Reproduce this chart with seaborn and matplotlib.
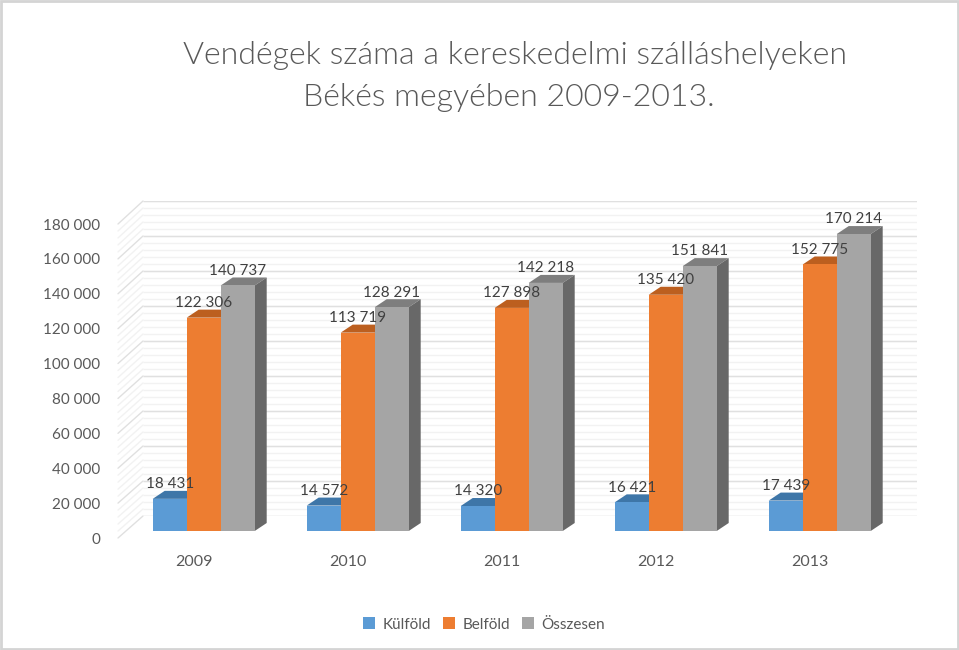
import numpy as np
import pandas as pd
import seaborn as sns
import matplotlib.pyplot as plt
from matplotlib.lines import Line2D
from matplotlib.patches import Polygon, Rectangle
from matplotlib.transforms import Affine2D, IdentityTransform

# =========================
# DATA
# =========================
years = ["2009", "2010", "2011", "2012", "2013"]
kulfold = [18431, 14572, 14320, 16421, 17439]
belfold = [122306, 113719, 127898, 135420, 152775]
osszesen = [140737, 128291, 142218, 151841, 170214]
series_names = ["Külföld", "Belföld", "Összesen"]

major_ticks = list(range(0, 180001, 20000))
minor_ticks = list(range(0, 180001, 4000))

front_colors = ["#5B9BD5", "#ED7D31", "#A5A5A5"]
top_colors = ["#3E76A8", "#BC5F1F", "#7E7E7E"]
side_colors = ["#33628C", "#9C4F1A", "#686868"]

W, H = 959, 650
DEPTH_X, DEPTH_Y = 12, 8   # px

sns.set_theme(style="white")
plt.rcParams["font.family"] = ["Lato", "DejaVu Sans"]

def spot(left, right, bottom, top):
    # pixel box (image coords) -> figure fraction
    return [left / W, 1 - bottom / H, (right - left) / W, (bottom - top) / H]

fmt = lambda v: f"{int(round(v)):,}".replace(",", " ")

df = pd.DataFrame({
    "year": years * 3,
    "series": np.repeat(series_names, 5),
    "value": kulfold + belfold + osszesen,
})

fig = plt.figure(figsize=(W / 100, H / 100), dpi=100)
fig.patch.set_facecolor("white")
fig.add_artist(Rectangle((0.001, 0.002), 0.998, 0.996, transform=fig.transFigure,
                         fill=False, ec="#D4D4D4", lw=2))

# =========================
# WALLS
# =========================
ax_back = fig.add_axes(spot(143, 917, 516, 201), zorder=0)
ax_back.set_xlim(0, 1)
ax_back.set_ylim(0, 180000)
ax_back.axis("off")
ax_back.hlines(minor_ticks, 0, 1, color="#F2F2F2", lw=1)
ax_back.hlines(major_ticks, 0, 1, color="#E0E0E0", lw=1)

ax_front = fig.add_axes(spot(118, 119, 538, 224), zorder=0)
ax_front.set_ylim(0, 180000)
ax_front.set_xticks([])
ax_front.set_yticks(major_ticks)
ax_front.set_yticklabels([fmt(t) for t in major_ticks], color="#595959", fontsize=11)
ax_front.tick_params(axis="y", length=0, pad=12.7)
sns.despine(ax=ax_front, left=True, bottom=True)
ax_front.patch.set_visible(False)

for v in minor_ticks:
    p0 = ax_front.transData.transform((ax_front.get_xlim()[0], v))
    p1 = ax_back.transData.transform((0, v))
    c = "#E0E0E0" if v in major_ticks else "#F2F2F2"
    fig.add_artist(Line2D([p0[0], p1[0]], [p0[1], p1[1]], color=c, lw=1,
                          transform=IdentityTransform(), zorder=0))

# =========================
# BARS
# =========================
ax = fig.add_axes(spot(126.7, 896.7, 531, 217), zorder=2)
sns.barplot(data=df, x="year", y="value", hue="series", palette=front_colors,
            width=102 / 154, gap=0, saturation=1, linewidth=0, edgecolor="none",
            ax=ax, zorder=2)
ax.set_xlim(-0.5, 4.5)
ax.set_ylim(0, 180000)
ax.patch.set_visible(False)
ax.set_xlabel("")
ax.set_ylabel("")
ax.set_yticks([])
sns.despine(ax=ax, left=True, bottom=True)

ax.tick_params(axis="x", length=0, pad=17)
for lab in ax.get_xticklabels():
    lab.set_color("#595959")
    lab.set_fontsize(11.5)
    lab.set_transform(lab.get_transform() + Affine2D().translate(-9.7, 0))

# px depth in data units
dx = DEPTH_X / (770 / 5)
dy = DEPTH_Y / (314 / 180000)

for cont, top_c, side_c in zip(ax.containers, top_colors, side_colors):
    for bar in cont:
        x0 = bar.get_x()
        x1 = x0 + bar.get_width()
        h = bar.get_height()
        ax.add_patch(Polygon([(x0, h), (x1, h), (x1 + dx, h + dy), (x0 + dx, h + dy)],
                             fc=top_c, ec="none", zorder=1.5, clip_on=False))
        ax.add_patch(Polygon([(x1, 0), (x1 + dx, dy), (x1 + dx, h + dy), (x1, h)],
                             fc=side_c, ec="none", zorder=1.5, clip_on=False))
    ax.bar_label(cont, labels=[fmt(b.get_height()) for b in cont], padding=5.5,
                 color="#404040", fontsize=11, zorder=5)

sns.move_legend(ax, "center", bbox_to_anchor=(484 / W, 1 - 624.5 / H),
                bbox_transform=fig.transFigure, ncol=3, frameon=False, title=None,
                fontsize=11, handlelength=0.8, handleheight=0.8,
                handletextpad=0.45, columnspacing=0.8, labelcolor="#595959")

# =========================
# TITLE
# =========================
fig.text(515 / W, 1 - 55 / H, "Vendégek száma a kereskedelmi szálláshelyeken",
         ha="center", va="center", fontsize=23.1, weight=300, color="#595959")
fig.text(509 / W, 1 - 97 / H, "Békés megyében 2009-2013.",
         ha="center", va="center", fontsize=23.1, weight=300, color="#595959")

fig.savefig("out.png", dpi=100)
